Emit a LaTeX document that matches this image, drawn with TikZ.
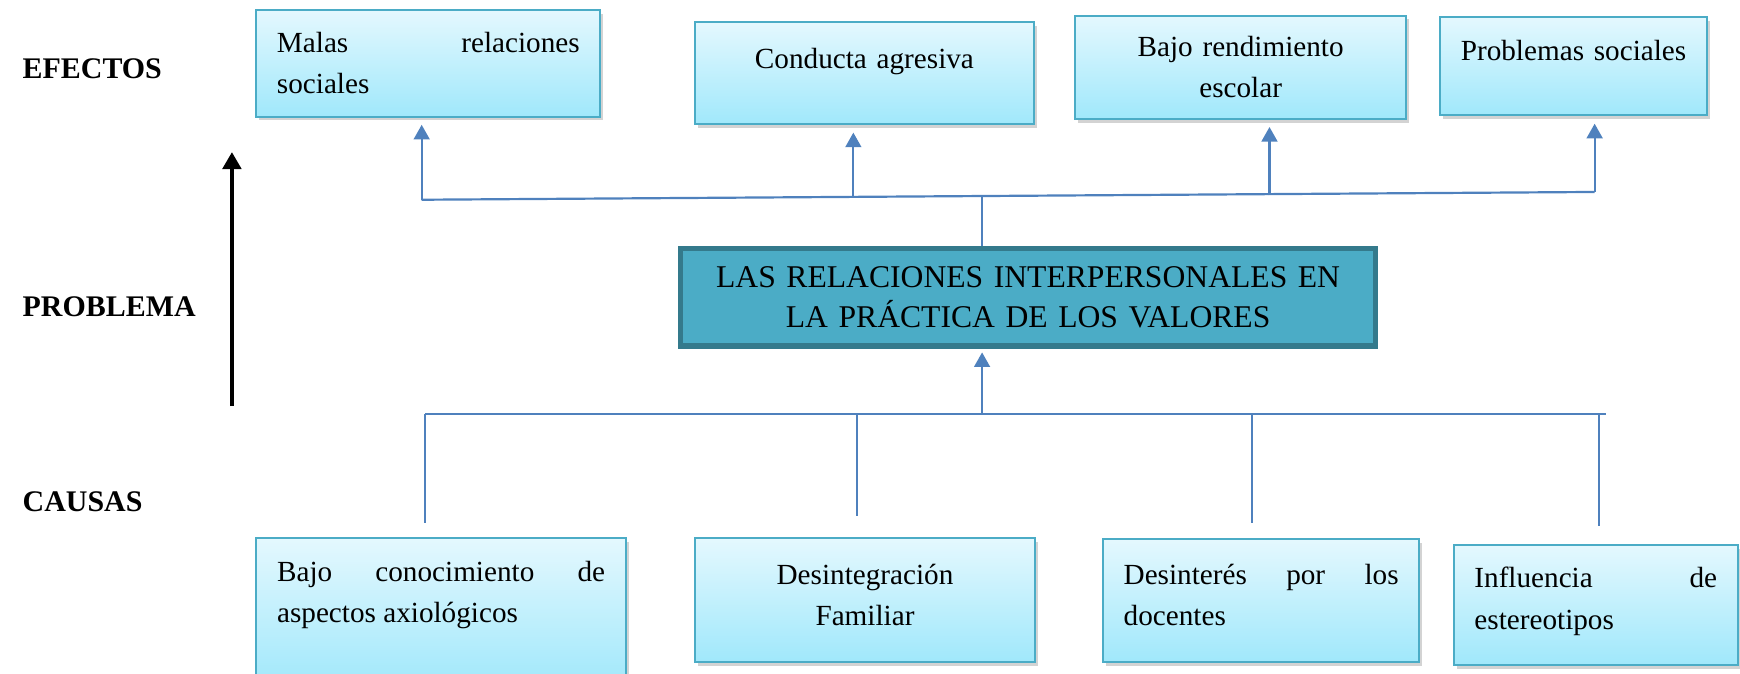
\documentclass[tikz,border=0pt]{standalone}
\usepackage{fontspec}
\setmainfont{Liberation Serif}
\usetikzlibrary{arrows.meta,shadows}
\definecolor{cajaborde}{RGB}{75,172,198}
\definecolor{cajaarriba}{RGB}{228,248,254}
\definecolor{cajaabajo}{RGB}{160,232,251}
\definecolor{flecha}{RGB}{79,129,189}
\definecolor{problema}{RGB}{75,172,198}
\definecolor{problemaborde}{RGB}{52,122,140}
\tikzset{
  caja/.style={draw=cajaborde,line width=0.8pt,top color=cajaarriba,bottom color=cajaabajo,
    inner xsep=8.5pt,font=\fontsize{12}{17}\selectfont,
    drop shadow={shadow xshift=1.2pt,shadow yshift=-1.6pt,opacity=0.35}},
  conector/.style={draw=flecha,line width=0.9pt},
  flechita/.style={conector,-{Triangle[width=6.5pt,length=6pt]},shorten >=3pt},
  titulo/.style={anchor=west,inner sep=0pt,font=\fontsize{12.3}{15}\selectfont\bfseries},
  eje/.style={line width=1.8pt,-{Triangle[width=7.5pt,length=7pt]}}
}
\begin{document}
\begin{tikzpicture}[x=0.456pt,y=-0.456pt]
\useasboundingbox (0,0) rectangle (1568,607);

\node[titulo] (efectos) at (20,62) {EFECTOS};
\node[titulo] (problema) at (20,276) {PROBLEMA};
\node[titulo] (causas) at (20,452) {CAUSAS};
\coordinate (ejeabajo) at (209,366);
\coordinate (ejearriba) at (209,137);
\draw[eje] (ejeabajo) -- (ejearriba);

% efectos
\node[caja,minimum width=141.4pt,minimum height=43.8pt,text width=124.4pt,align=justify] (e1) at (386,57) {Malas relaciones\linebreak sociales};
\node[caja,minimum width=139.5pt,minimum height=42pt,text width=122.5pt,align=center,text depth=12.6pt] (e2) at (779,66) {Conducta agresiva};
\node[caja,minimum width=135.9pt,minimum height=42.4pt,text width=118.9pt,align=center] (e3) at (1118,60.5) {Bajo rendimiento\\escolar};
\node[caja,inner xsep=4.7pt,minimum width=109.4pt,minimum height=40.6pt,text width=100pt,align=center,text depth=13pt] (e4) at (1418,59.5) {Problemas sociales};

\node[draw=problemaborde,fill=problema,line width=2.2pt,minimum width=285.5pt,minimum height=40pt,
  text width=270pt,align=center,font=\fontsize{13}{16.4}\selectfont] (p) at (926.5,268)
  {LAS RELACIONES INTERPERSONALES EN\\LA PRÁCTICA DE LOS VALORES};

% causas
\node[caja,minimum width=151.8pt,minimum height=61.6pt,text width=134.8pt,align=justify,text depth=34.5pt] (c1) at (397.5,552.5) {Bajo conocimiento de\linebreak aspectos axiológicos};
\node[caja,minimum width=140pt,minimum height=51pt,text width=123pt,align=center,text depth=21.5pt] (c2) at (779.5,541) {Desintegración\\Familiar};
\node[caja,minimum width=130pt,minimum height=50.6pt,text width=113pt,align=justify,text depth=22pt] (c3) at (1136.5,541.5) {Desinterés por los\linebreak docentes};
\node[caja,minimum width=116.7pt,minimum height=49.2pt,text width=99.7pt,align=justify,text depth=22.5pt] (c4) at (1438,545) {Influencia de\linebreak estereotipos};

% conectores de arriba
\coordinate (ef1) at (380,180);
\coordinate (ef2) at (769,177.5);
\coordinate (ef3) at (1144,176);
\coordinate (ef4) at (1437,173);
\coordinate (pa) at (885,177);
\draw[conector] (ef1) -- (ef4);
\draw[conector] (pa |- p.north) -- (pa);
\foreach \i in {1,...,4}
  \draw[flechita] (ef\i) -- (ef\i |- e\i.south);

% conectores de abajo
\coordinate (cizq) at (383,373);
\coordinate (cder) at (1447,373);
\coordinate (ca1) at (383,471);
\coordinate (ca2) at (772,465);
\coordinate (ca3) at (1128,471);
\coordinate (ca4) at (1441,474);
\coordinate (pb) at (885,373);
\draw[conector] (cizq) -- (cder);
\foreach \i in {1,...,4}
  \draw[conector] (ca\i |- cizq) -- (ca\i);
\draw[flechita,shorten >=1.5pt] (pb) -- (pb |- p.south);

\end{tikzpicture}
\end{document}
